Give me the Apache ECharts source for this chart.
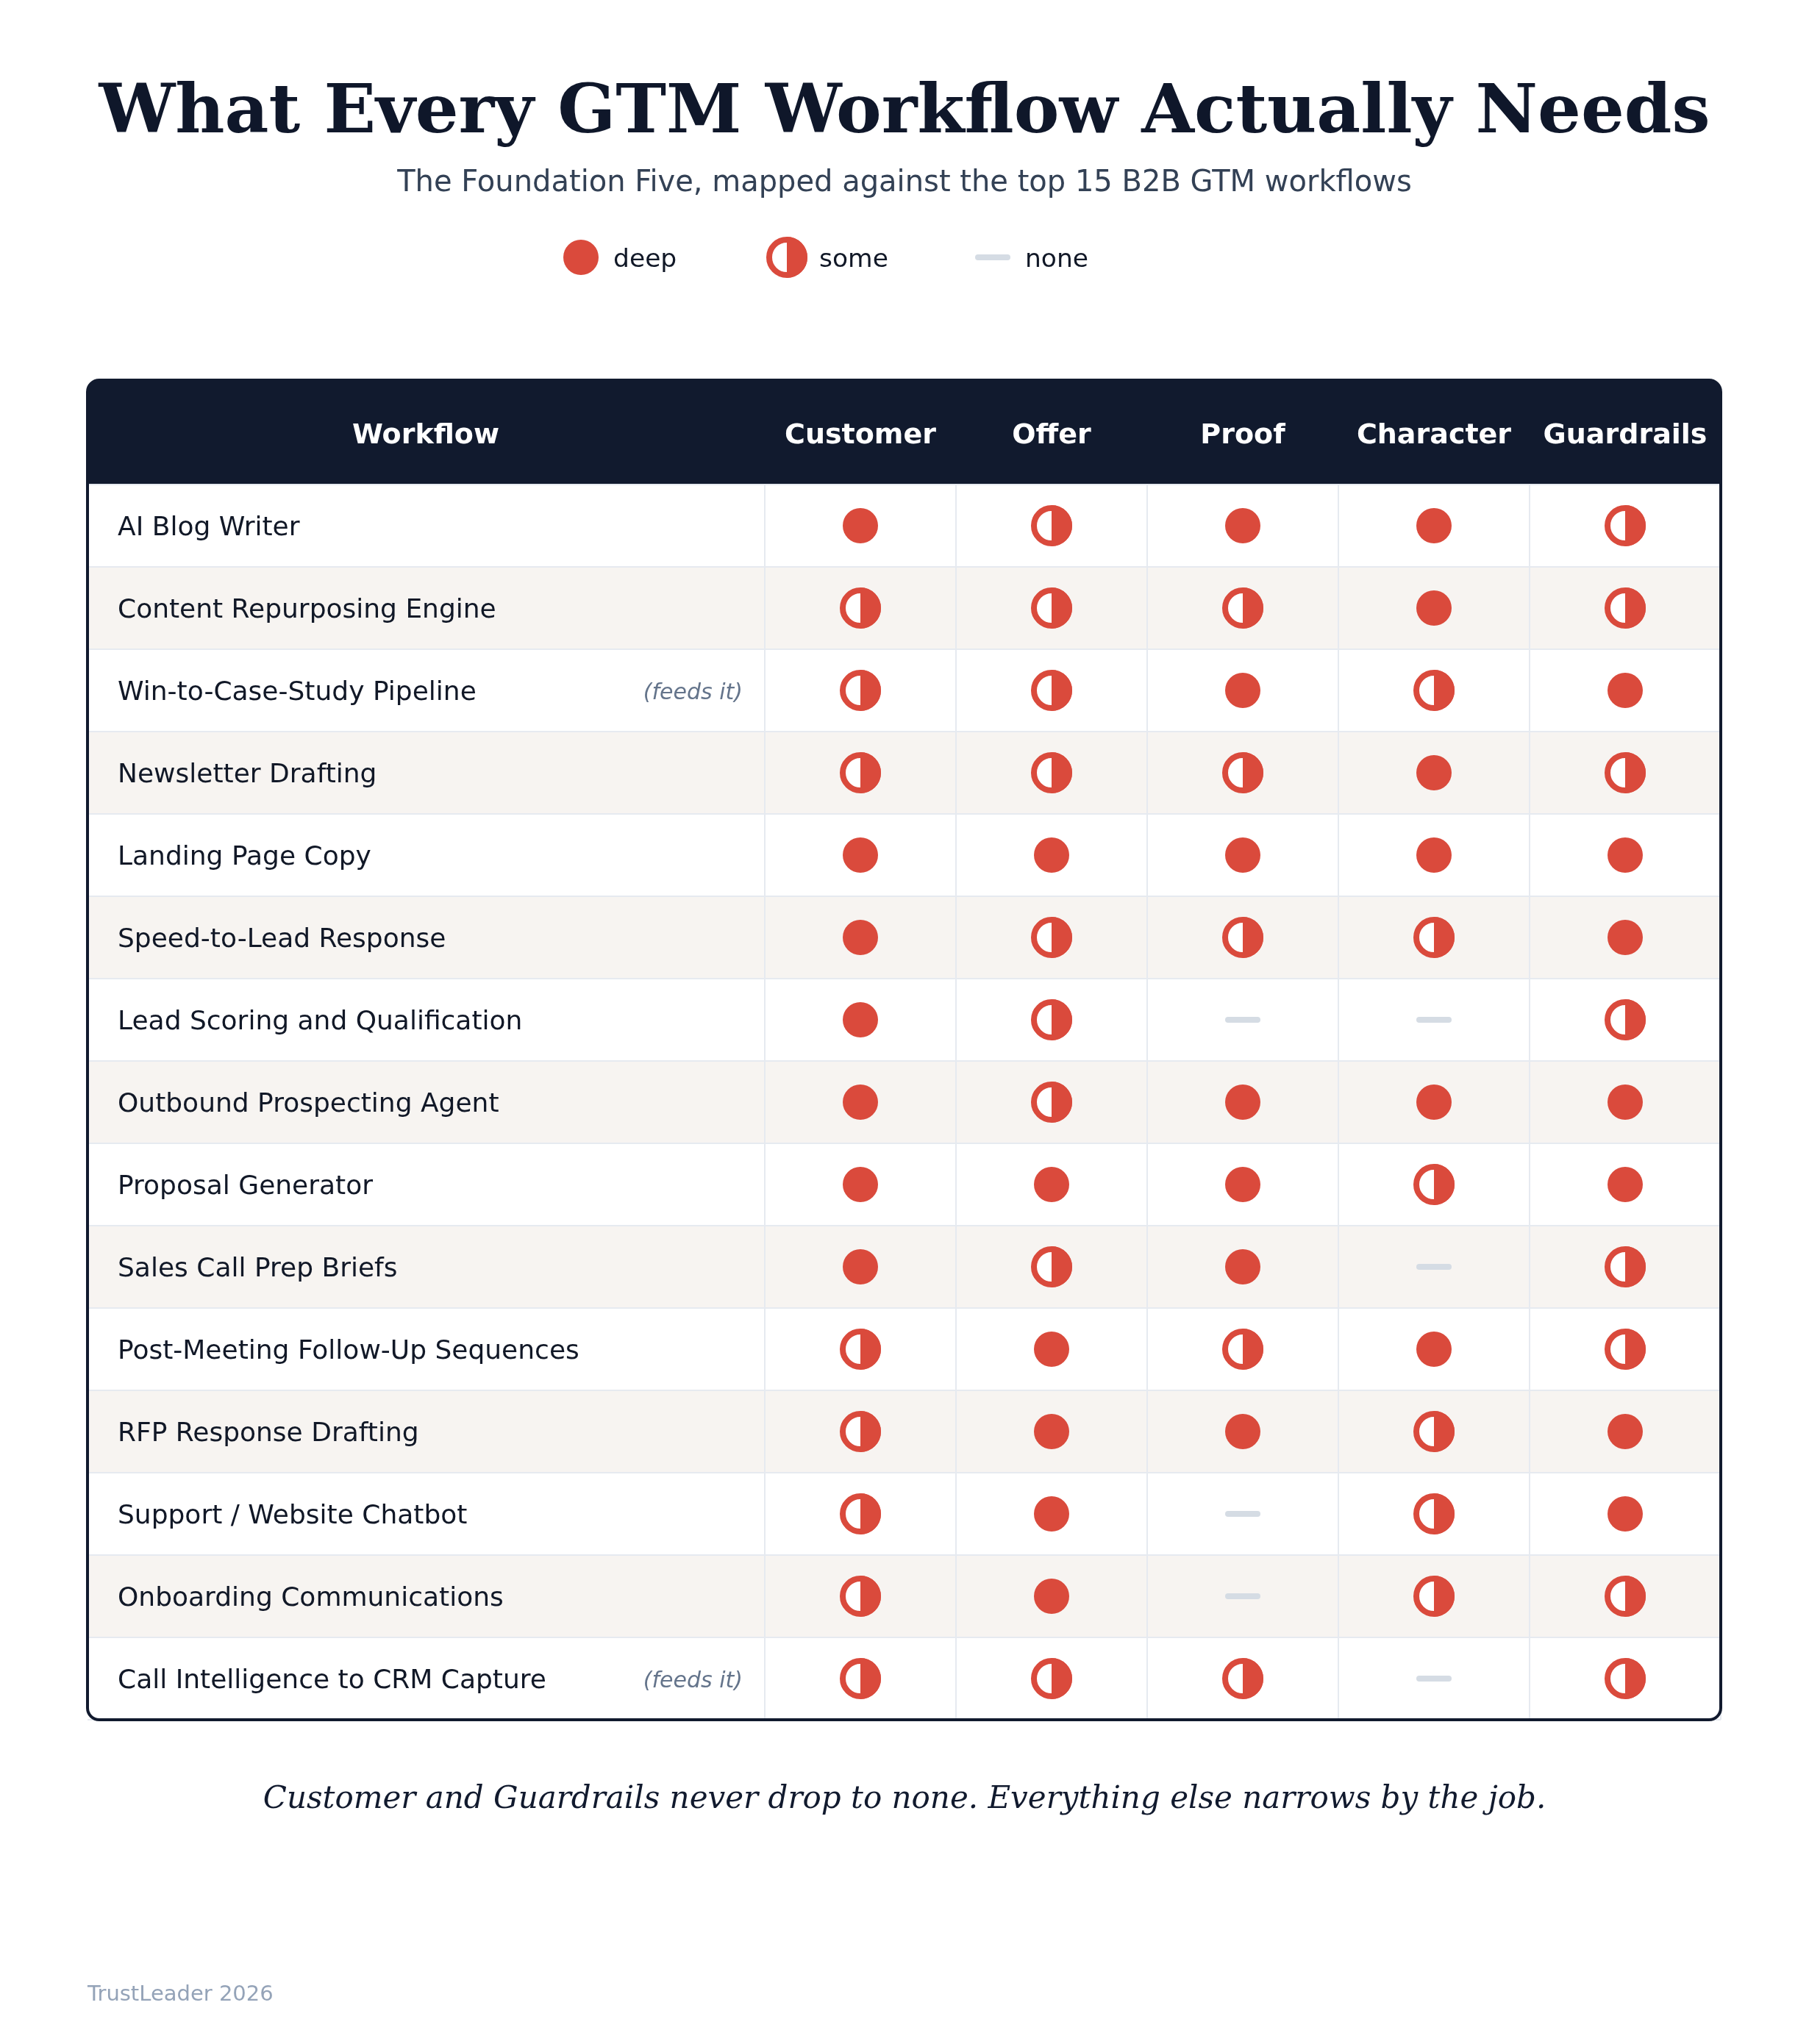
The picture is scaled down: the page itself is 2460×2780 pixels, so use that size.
<!DOCTYPE html>
<html>
<head>
<meta charset="utf-8">
<title>What Every GTM Workflow Actually Needs</title>
<script src="https://cdn.jsdelivr.net/npm/echarts@6/dist/echarts.min.js"></script>
<style>
  html, body { margin: 0; padding: 0; background: #ffffff; }
  #chart { width: 2460px; height: 2780px; }
</style>
</head>
<body>
<div id="chart"></div>
<script>
var workflows = [
  'AI Blog Writer',
  'Content Repurposing Engine',
  'Win-to-Case-Study Pipeline',
  'Newsletter Drafting',
  'Landing Page Copy',
  'Speed-to-Lead Response',
  'Lead Scoring and Qualification',
  'Outbound Prospecting Agent',
  'Proposal Generator',
  'Sales Call Prep Briefs',
  'Post-Meeting Follow-Up Sequences',
  'RFP Response Drafting',
  'Support / Website Chatbot',
  'Onboarding Communications',
  'Call Intelligence to CRM Capture'
];
var notes = ['', '', '(feeds it)', '', '', '', '', '', '', '', '', '', '', '', '(feeds it)'];
var pillars = ['Customer', 'Offer', 'Proof', 'Character', 'Guardrails'];
var levels = ['none', 'some', 'deep'];

// 2 = deep, 1 = some, 0 = none (one row per workflow, one column per pillar)
var coverage = [
  [2, 1, 2, 2, 1],
  [1, 1, 1, 2, 1],
  [1, 1, 2, 1, 2],
  [1, 1, 1, 2, 1],
  [2, 2, 2, 2, 2],
  [2, 1, 1, 1, 2],
  [2, 1, 0, 0, 1],
  [2, 1, 2, 2, 2],
  [2, 2, 2, 1, 2],
  [2, 1, 2, 0, 1],
  [1, 2, 1, 2, 1],
  [1, 2, 2, 1, 2],
  [1, 2, 0, 1, 2],
  [1, 2, 0, 1, 1],
  [1, 1, 1, 0, 1]
];

var RED = '#da4a3c';
var NAVY = '#111a2e';
var DASH = '#d5dce4';
var LINE = '#e6eaf0';
var SANS = 'DejaVu Sans';
var SERIF = 'DejaVu Serif';

var cells = [];
for (var r = 0; r < coverage.length; r++) {
  for (var c = 0; c < coverage[r].length; c++) {
    cells.push([c, r, coverage[r][c]]);
  }
}

var chart = echarts.init(document.getElementById('chart'));

// ring (outer 28, inner 20) with the right half filled
function someIcon(x, y) {
  return [
    { type: 'circle', shape: { cx: x, cy: y, r: 24 }, style: { fill: '#ffffff', stroke: RED, lineWidth: 8 } },
    { type: 'sector', shape: { cx: x, cy: y, r0: 0, r: 28, startAngle: -Math.PI / 2, endAngle: Math.PI / 2, clockwise: true }, style: { fill: RED } }
  ];
}

function renderCell(params, api) {
  var p = api.coord([api.value(0), api.value(1)]);
  var level = api.value(2);
  if (level === 2) {
    return { type: 'circle', shape: { cx: p[0], cy: p[1], r: 24 }, style: { fill: RED } };
  }
  if (level === 1) {
    return { type: 'group', children: someIcon(p[0], p[1]) };
  }
  return { type: 'rect', shape: { x: p[0] - 24, y: p[1] - 4, width: 48, height: 8, r: 4 }, style: { fill: DASH } };
}

var legendY = 350;

var option = {
  backgroundColor: '#ffffff',
  animation: false,
  title: {
    text: 'What Every GTM Workflow Actually Needs',
    subtext: 'The Foundation Five, mapped against the top 15 B2B GTM workflows',
    left: 'center',
    top: 104,
    itemGap: 28,
    textStyle: { fontFamily: SERIF, fontWeight: 'bold', fontSize: 92.5, color: '#0f172a' },
    subtextStyle: { fontFamily: SANS, fontSize: 40, color: '#334155' }
  },
  grid: [
    { left: 119, right: 120, top: 659, height: 1680 },
    { left: 1040, right: 120, top: 659, height: 1680 }
  ],
  xAxis: [
    { gridIndex: 0, type: 'value', min: 0, max: 1, show: false },
    {
      gridIndex: 1, type: 'category', data: pillars, position: 'top', z: 1,
      axisLine: { show: false }, axisTick: { show: false },
      axisLabel: { interval: 0, margin: 66, verticalAlign: 'middle', color: '#ffffff', fontFamily: SANS, fontWeight: 'bold', fontSize: 38 },
      splitLine: { show: true, interval: 0, lineStyle: { color: LINE, width: 2 } }
    }
  ],
  yAxis: [
    {
      gridIndex: 0, type: 'category', data: workflows, inverse: true,
      axisLine: { show: false }, axisTick: { show: false },
      axisLabel: {
        interval: 0, inside: true, margin: 41, align: 'left', padding: [8, 0, 0, 0],
        formatter: function (v, i) {
          return notes[i] ? '{n|' + v + '}{f|' + notes[i] + '}' : '{n|' + v + '}';
        },
        rich: {
          n: { width: 650, fontFamily: SANS, fontSize: 36, color: '#111827' },
          f: { width: 200, align: 'right', fontFamily: SANS, fontStyle: 'italic', fontSize: 30, color: '#64748b' }
        }
      },
      splitArea: { show: true, interval: 0, areaStyle: { color: ['#ffffff', '#f7f4f1'] } },
      splitLine: { show: true, interval: 0, lineStyle: { color: LINE, width: 2 } }
    },
    {
      gridIndex: 1, type: 'category', data: workflows, inverse: true, show: false
    }
  ],
  series: [
    {
      name: 'coverage',
      type: 'custom',
      xAxisIndex: 1,
      yAxisIndex: 1,
      z: 5,
      data: cells,
      renderItem: renderCell
    }
  ],
  graphic: [
    // table header band and frame
    { type: 'rect', z: 0, shape: { x: 119, y: 517, width: 2221, height: 142, r: [16, 16, 0, 0] }, style: { fill: NAVY } },
    { type: 'text', z: 10, x: 579, y: 593, style: { text: 'Workflow', fill: '#ffffff', font: 'bold 38px "DejaVu Sans"', align: 'center', verticalAlign: 'middle' } },
    { type: 'rect', z: 20, silent: true, shape: { x: 119, y: 517, width: 2221, height: 1822, r: 16 }, style: { fill: 'none', stroke: NAVY, lineWidth: 4 } },
    // legend
    { type: 'circle', shape: { cx: 790, cy: legendY, r: 24 }, style: { fill: RED } },
    { type: 'text', x: 834, y: legendY + 4, style: { text: levels[2], fill: '#111827', font: '34.5px "DejaVu Sans"', verticalAlign: 'middle' } },
    { type: 'group', children: someIcon(1070, legendY) },
    { type: 'text', x: 1114, y: legendY + 4, style: { text: levels[1], fill: '#111827', font: '34.5px "DejaVu Sans"', verticalAlign: 'middle' } },
    { type: 'rect', shape: { x: 1326, y: legendY - 4, width: 48, height: 8, r: 4 }, style: { fill: DASH } },
    { type: 'text', x: 1394, y: legendY + 4, style: { text: levels[0], fill: '#111827', font: '34.5px "DejaVu Sans"', verticalAlign: 'middle' } },
    // footnotes
    { type: 'text', x: 1230, y: 2448, style: { text: 'Customer and Guardrails never drop to none. Everything else narrows by the job.', fill: '#111a2e', font: 'italic 42px "DejaVu Serif"', align: 'center', verticalAlign: 'middle' } },
    { type: 'text', x: 119, y: 2713, style: { text: 'TrustLeader 2026', fill: '#94a3b8', font: '29px "DejaVu Sans"', verticalAlign: 'middle' } }
  ]
};

chart.setOption(option);
</script>
</body>
</html>
